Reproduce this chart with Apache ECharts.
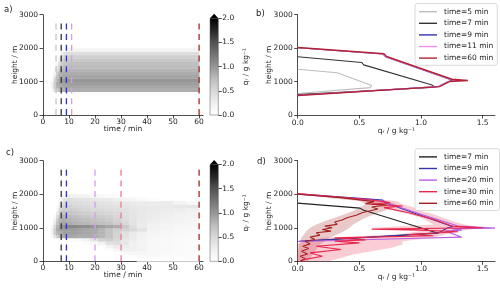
<!DOCTYPE html>
<html>
<head>
<meta charset="utf-8">
<script src="https://cdn.jsdelivr.net/npm/echarts@6/dist/echarts.min.js"></script>
<style>
  html, body { margin: 0; padding: 0; background: #fff; }
  #main { width: 500px; height: 292px; }
</style>
</head>
<body>
<div id="main"></div>
<script>
// ---- data ----
// field rows: bottom of each 100 m height bin
var rowStep = 100;
var rowBottoms = [0, 100, 200, 300, 400, 500, 600, 700, 800, 900, 1000, 1100, 1200, 1300, 1400, 1500, 1600, 1700, 1800, 1900];

// panel a: column edges (min) and q_r (g/kg) per height bin
var colEdgesA = [3, 4, 5, 6, 7, 8, 9, 60];
var fieldA = [
  [0, 0, 0, 0, 0, 0, 0, 0.1, 0.2, 0.2, 0.1, 0, 0, 0, 0, 0, 0, 0, 0, 0],
  [0, 0, 0, 0, 0, 0, 0, 0.4, 0.6, 0.6, 0.5, 0.35, 0.2, 0.1, 0, 0, 0, 0, 0, 0],
  [0, 0, 0, 0, 0, 0, 0, 0.6, 0.8, 0.85, 0.8, 0.7, 0.6, 0.45, 0.3, 0.15, 0.05, 0, 0, 0],
  [0, 0, 0, 0, 0, 0, 0, 0.75, 0.85, 0.9, 0.9, 0.85, 0.8, 0.7, 0.6, 0.5, 0.35, 0.2, 0.1, 0],
  [0, 0, 0, 0, 0, 0, 0, 0.82, 0.88, 0.92, 0.98, 0.88, 0.84, 0.78, 0.7, 0.64, 0.56, 0.45, 0.3, 0.08],
  [0, 0, 0, 0, 0, 0, 0.03, 0.85, 0.9, 0.95, 1.0, 0.9, 0.85, 0.8, 0.74, 0.7, 0.63, 0.55, 0.42, 0.15],
  [0, 0, 0, 0, 0, 0, 0.05, 0.85, 0.9, 0.95, 1.0, 0.9, 0.85, 0.8, 0.75, 0.72, 0.65, 0.58, 0.45, 0.2]
];

// panel c
var colEdgesC = [3, 4, 5, 6, 7, 8, 9, 11, 13, 15, 18, 21, 24, 27, 30, 33, 36, 40, 45, 50, 55, 60];
var fieldC = [
  [0, 0, 0, 0, 0, 0, 0, 0.1, 0.2, 0.2, 0.1, 0, 0, 0, 0, 0, 0, 0, 0, 0],
  [0, 0, 0, 0, 0, 0, 0, 0.4, 0.6, 0.6, 0.5, 0.35, 0.2, 0.1, 0, 0, 0, 0, 0, 0],
  [0, 0, 0, 0, 0, 0, 0, 0.6, 0.8, 0.85, 0.8, 0.7, 0.6, 0.45, 0.3, 0.15, 0.05, 0, 0, 0],
  [0, 0, 0, 0, 0, 0, 0, 0.75, 0.85, 0.9, 0.9, 0.85, 0.8, 0.7, 0.6, 0.5, 0.35, 0.2, 0.1, 0],
  [0, 0, 0, 0, 0, 0, 0, 0.85, 0.9, 0.95, 1.0, 0.9, 0.85, 0.8, 0.7, 0.62, 0.52, 0.42, 0.3, 0.1],
  [0, 0, 0, 0, 0, 0, 0, 0.9, 0.95, 0.95, 1.05, 0.9, 0.85, 0.8, 0.72, 0.62, 0.55, 0.48, 0.4, 0.2],
  [0, 0, 0, 0, 0, 0, 0.05, 0.9, 0.95, 0.95, 1.1, 0.85, 0.8, 0.75, 0.68, 0.6, 0.55, 0.5, 0.45, 0.25],
  [0, 0, 0, 0, 0, 0, 0.08, 0.88, 0.95, 0.95, 1.1, 0.82, 0.78, 0.72, 0.65, 0.58, 0.52, 0.48, 0.42, 0.25],
  [0, 0, 0, 0, 0, 0, 0.12, 0.85, 0.92, 0.92, 1.05, 0.8, 0.75, 0.7, 0.62, 0.55, 0.5, 0.45, 0.4, 0.22],
  [0, 0, 0, 0, 0, 0.05, 0.2, 0.85, 0.9, 0.9, 1.05, 0.78, 0.72, 0.65, 0.6, 0.52, 0.48, 0.44, 0.38, 0.2],
  [0, 0, 0, 0, 0, 0.1, 0.35, 0.85, 0.88, 0.88, 1.0, 0.75, 0.7, 0.62, 0.56, 0.5, 0.45, 0.42, 0.35, 0.15],
  [0, 0, 0, 0, 0.05, 0.2, 0.55, 0.8, 0.8, 0.8, 0.95, 0.72, 0.66, 0.6, 0.54, 0.48, 0.44, 0.4, 0.32, 0.1],
  [0, 0, 0, 0.05, 0.2, 0.4, 0.6, 0.7, 0.7, 0.7, 0.9, 0.7, 0.62, 0.58, 0.52, 0.46, 0.42, 0.38, 0.3, 0.08],
  [0, 0, 0.05, 0.15, 0.3, 0.45, 0.5, 0.55, 0.55, 0.6, 0.85, 0.6, 0.55, 0.52, 0.48, 0.44, 0.4, 0.36, 0.25, 0.05],
  [0, 0.03, 0.1, 0.25, 0.3, 0.35, 0.35, 0.4, 0.42, 0.55, 0.65, 0.5, 0.46, 0.44, 0.42, 0.4, 0.38, 0.34, 0.2, 0],
  [0, 0.05, 0.15, 0.25, 0.25, 0.25, 0.28, 0.3, 0.32, 0.5, 0.45, 0.4, 0.38, 0.38, 0.38, 0.36, 0.35, 0.32, 0.15, 0],
  [0.02, 0.08, 0.15, 0.2, 0.2, 0.2, 0.2, 0.22, 0.25, 0.4, 0.3, 0.32, 0.33, 0.34, 0.34, 0.34, 0.33, 0.3, 0.1, 0],
  [0.02, 0.08, 0.12, 0.12, 0.12, 0.12, 0.12, 0.15, 0.18, 0.2, 0.22, 0.25, 0.28, 0.3, 0.3, 0.32, 0.32, 0.3, 0.05, 0],
  [0.02, 0.06, 0.1, 0.1, 0.1, 0.1, 0.1, 0.12, 0.14, 0.16, 0.18, 0.2, 0.24, 0.26, 0.28, 0.3, 0.32, 0.3, 0, 0],
  [0.02, 0.05, 0.08, 0.08, 0.08, 0.08, 0.08, 0.1, 0.12, 0.14, 0.15, 0.18, 0.2, 0.22, 0.25, 0.28, 0.34, 0.2, 0, 0],
  [0.02, 0.05, 0.07, 0.07, 0.07, 0.07, 0.07, 0.09, 0.1, 0.12, 0.14, 0.16, 0.18, 0.2, 0.22, 0.26, 0.36, 0.1, 0, 0]
];

// dashed marker times (min)
var markTimesA = [5, 7, 9, 11, 60];
var markTimesC = [7, 9, 20, 30, 60];
var markTop = 2870;

// profiles [q_r, height]
var profB5 = [[0, 1370], [0.32, 1265], [0.33, 1215], [0.6, 880], [0.59, 820], [0, 645]];
var profB7 = [[0, 1740], [0.52, 1570], [0.535, 1500], [1.09, 895], [1.115, 830], [0, 610]];
var profB9 = [[0, 2010], [0.69, 1825], [0.71, 1745], [1.23, 1070], [1.26, 1040], [1.22, 1000], [1.14, 850], [0, 590]];
var profB11 = [[0, 2010], [0.69, 1825], [0.71, 1745], [1.24, 1065], [1.3, 1030], [1.22, 1000], [1.14, 850], [0, 590]];
var profB60 = [[0, 2020], [0.7, 1830], [0.72, 1750], [1.25, 1070], [1.38, 1030], [1.23, 1000], [1.15, 850], [0, 585]];

var profD7 = [[0, 1735], [0.505, 1585], [0.53, 1530], [1.1, 880], [1.14, 837], [0, 590]];
var profD9 = [[0, 2010], [0.69, 1825], [0.71, 1745], [1.23, 1070], [1.26, 1040], [1.22, 1000], [1.14, 850], [0, 590]];
var profD20 = [[0, 2000], [0.7, 1800], [0.74, 1720], [1.0, 1400], [1.3, 1050], [1.6, 990], [1.25, 975], [1.33, 930], [1.2, 900], [1.33, 720], [0.9, 680], [0, 590]];
var profD30 = [[0, 2020], [0.55, 1850], [0.75, 1750], [0.6, 1700], [0.85, 1650], [0.7, 1600], [0.9, 1450], [1.1, 1250], [1.25, 1050], [1.5, 1000], [0.6, 960], [1.0, 930], [1.3, 880], [0.9, 800], [1.1, 760], [0.3, 700], [0.55, 640], [0.3, 600], [0.5, 550], [0.15, 450], [0.35, 350], [0.1, 250], [0.2, 150], [0.05, 50], [0.02, 0]];
var profD60 = [[0, 2000], [0.35, 1900], [0.62, 1780], [0.55, 1720], [0.72, 1680], [0.6, 1620], [0.65, 1560], [0.52, 1450], [0.48, 1380], [0.4, 1300], [0.36, 1230], [0.3, 1170], [0.32, 1100], [0.22, 1050], [0.28, 1000], [0.2, 950], [0.27, 900], [0.15, 850], [0.18, 780], [0.1, 720], [0.14, 650], [0.06, 600], [0.1, 520], [0.04, 450], [0.09, 380], [0.03, 300], [0.08, 220], [0.02, 150], [0.06, 80], [0.02, 0]];

// spread bands in d
var bandHeights = [1900, 1800, 1700, 1600, 1500, 1400, 1300, 1200, 1100, 1000, 900, 800, 700, 600, 500, 400, 300, 200, 100, 0];
var band30Low = [0.3, 0.55, 0.6, 0.7, 0.8, 0.9, 1.0, 1.05, 1.1, 0.6, 1.0, 0.8, 0.2, 0.05, 0, 0, 0, 0, 0, 0];
var band30High = [0.5, 0.8, 0.85, 0.95, 1.0, 1.1, 1.18, 1.25, 1.35, 1.5, 1.3, 1.2, 1.1, 0.85, 0.85, 0.75, 0.6, 0.45, 0.35, 0.25];
var band60Low = [0.2, 0.5, 0.55, 0.5, 0.45, 0.38, 0.3, 0.22, 0.15, 0.1, 0.07, 0.05, 0.03, 0.02, 0.01, 0.01, 0, 0, 0, 0];
var band60High = [0.3, 0.7, 0.8, 0.78, 0.7, 0.62, 0.55, 0.5, 0.45, 0.42, 0.38, 0.32, 0.26, 0.22, 0.18, 0.16, 0.14, 0.12, 0.1, 0.08];

var timeTicks = [0, 10, 20, 30, 40, 50, 60];
var heightTicks = [0, 1000, 2000, 3000];
var qrTicks = [0, 0.5, 1, 1.5];
var cbTicks = [0, 0.5, 1, 1.5, 2];
var greys = ['#ffffff', '#f0f0f0', '#d9d9d9', '#bdbdbd', '#969696', '#737373', '#525252', '#252525', '#000000'];

// ---- chart ----
var FONT = 'DejaVu Sans';
var INK = '#222';
var QR = 'q\u1d63 / g kg\u207b\u00b9';

function cells(edges, cols) {
  var out = [];
  cols.forEach(function (col, j) {
    col.forEach(function (q, i) {
      if (q > 0) out.push([edges[j], edges[j + 1], rowBottoms[i], rowBottoms[i] + rowStep, q]);
    });
  });
  return out;
}

function renderCell(params, api) {
  var p = api.coord([api.value(0), api.value(3)]);
  var r = api.coord([api.value(1), api.value(2)]);
  return {
    type: 'rect',
    shape: { x: p[0], y: p[1], width: r[0] - p[0] + 0.4, height: r[1] - p[1] + 0.4 },
    style: { fill: api.visual('color') }
  };
}

function renderColorbar(params, api) {
  var p = api.coord([0, 2]);
  var r = api.coord([1, 0]);
  var stops = greys.map(function (c, i) { return { offset: i / (greys.length - 1), color: c }; });
  return {
    type: 'group',
    children: [
      { type: 'rect', shape: { x: p[0], y: p[1], width: r[0] - p[0], height: r[1] - p[1] },
        style: { fill: { type: 'linear', x: 0, y: 1, x2: 0, y2: 0, colorStops: stops }, stroke: '#555', lineWidth: 0.5 } },
      { type: 'polygon', shape: { points: [[p[0], p[1]], [r[0], p[1]], [(p[0] + r[0]) / 2, p[1] - 4.5]] },
        style: { fill: '#000' } }
    ]
  };
}

function band(idx, lo, hi, color) {
  return {
    type: 'custom', xAxisIndex: idx, yAxisIndex: idx, silent: true, data: [[0, 0]],
    renderItem: function (params, api) {
      var pts = [];
      bandHeights.forEach(function (h, k) { pts.push(api.coord([lo[k], h])); });
      for (var k = bandHeights.length - 1; k >= 0; k--) pts.push(api.coord([hi[k], bandHeights[k]]));
      return { type: 'polygon', shape: { points: pts }, style: { fill: color } };
    }
  };
}

function marks(idx, times, colors) {
  return times.map(function (t, k) {
    return {
      type: 'line', xAxisIndex: idx, yAxisIndex: idx, silent: true, symbol: 'none',
      data: [[t, 0], [t, markTop]],
      lineStyle: { color: colors[k], width: 1.3, type: [6, 4.7] }
    };
  });
}

function profile(idx, name, data, color, width) {
  return {
    type: 'line', name: name, xAxisIndex: idx, yAxisIndex: idx, symbol: 'none', showSymbol: false,
    data: data, lineStyle: { color: color, width: width || 1.1 }, itemStyle: { color: color }
  };
}

function axis(o) {
  var base = {
    type: 'value', splitLine: { show: false }, nameLocation: 'middle', nameMoveOverlap: false,
    axisLine: { show: true, onZero: false, lineStyle: { color: INK, width: 0.8 } },
    axisTick: { show: true, length: 3.5, lineStyle: { color: INK, width: 0.8 } },
    axisLabel: { fontSize: 7.5, color: INK, fontFamily: FONT, margin: 3 },
    nameTextStyle: { fontSize: 7.5, color: INK, fontFamily: FONT }
  };
  Object.keys(o).forEach(function (k) {
    if (base[k] && typeof base[k] === 'object' && !Array.isArray(o[k])) base[k] = Object.assign({}, base[k], o[k]);
    else base[k] = o[k];
  });
  return base;
}

var fmt1 = function (v) { return Number(v).toFixed(1); };
var fmt0 = function (v) { return String(v); };

var grids = [
  { left: 43, top: 14.7, width: 160, height: 100.3 },
  { left: 297.7, top: 14.7, width: 197.3, height: 100.3 },
  { left: 43, top: 160.7, width: 160, height: 100.6 },
  { left: 297.7, top: 160.7, width: 197.3, height: 100.6 },
  { left: 210, top: 18.3, width: 8.3, height: 96.7 },
  { left: 210, top: 164.5, width: 8.3, height: 96.8 }
];

var xAxes = [], yAxes = [];
[0, 2].forEach(function (g) {
  xAxes[g] = axis({ gridIndex: g, min: 0, max: 61.5, name: 'time / min', nameGap: 10,
    axisTick: { customValues: timeTicks }, axisLabel: { customValues: timeTicks, formatter: fmt0 } });
  yAxes[g] = axis({ gridIndex: g, min: 0, max: 3000, name: 'height / m', nameGap: 24,
    axisTick: { customValues: heightTicks }, axisLabel: { customValues: heightTicks, formatter: fmt0, margin: 5 } });
});
[1, 3].forEach(function (g) {
  xAxes[g] = axis({ gridIndex: g, min: 0, max: 1.6, name: QR, nameGap: 12,
    axisTick: { customValues: qrTicks }, axisLabel: { customValues: qrTicks, formatter: fmt1, margin: 4 } });
  yAxes[g] = axis({ gridIndex: g, min: 0, max: 3000, name: 'height / m', nameGap: 25,
    axisTick: { customValues: heightTicks }, axisLabel: { customValues: heightTicks, formatter: fmt0, margin: 5 } });
});
[4, 5].forEach(function (g) {
  xAxes[g] = { type: 'value', gridIndex: g, min: 0, max: 1, show: false };
  yAxes[g] = axis({ gridIndex: g, min: 0, max: 2, position: 'right', name: QR, nameGap: 24, nameRotate: 90,
    axisLine: { show: false },
    axisTick: { customValues: cbTicks }, axisLabel: { customValues: cbTicks, formatter: fmt1, margin: 4 } });
});

var series = [
  { type: 'custom', xAxisIndex: 0, yAxisIndex: 0, silent: true, renderItem: renderCell,
    dimensions: ['t0', 't1', 'z0', 'z1', 'q'], encode: { x: [0, 1], y: [2, 3] }, data: cells(colEdgesA, fieldA) },
  { type: 'custom', xAxisIndex: 2, yAxisIndex: 2, silent: true, renderItem: renderCell,
    dimensions: ['t0', 't1', 'z0', 'z1', 'q'], encode: { x: [0, 1], y: [2, 3] }, data: cells(colEdgesC, fieldC) },
  { type: 'custom', xAxisIndex: 4, yAxisIndex: 4, silent: true, renderItem: renderColorbar, data: [[0, 0]] },
  { type: 'custom', xAxisIndex: 5, yAxisIndex: 5, silent: true, renderItem: renderColorbar, data: [[0, 0]] },
  band(3, band60Low, band60High, 'rgba(175, 60, 60, 0.28)'),
  band(3, band30Low, band30High, 'rgba(240, 90, 115, 0.3)')
];
series = series
  .concat(marks(0, markTimesA, ['#c4c4c4', '#333333', '#3535b0', '#ee8eee', '#b22222']))
  .concat(marks(2, markTimesC, ['#333333', '#3535b0', '#d49cf0', '#f27a8e', '#b22222']))
  .concat([
    profile(1, 'time=5 min', profB5, '#bdbdbd'),
    profile(1, 'time=7 min', profB7, '#333333'),
    profile(1, 'time=9 min', profB9, '#3535b0'),
    profile(1, 'time=11 min', profB11, '#ee8eee'),
    profile(1, 'time=60 min', profB60, '#b22234', 1.4),
    profile(3, 'time=7 min ', profD7, '#222222'),
    profile(3, 'time=9 min ', profD9, '#3535b0'),
    profile(3, 'time=20 min', profD20, '#b860e0'),
    profile(3, 'time=30 min', profD30, '#e8264c'),
    profile(3, 'time=60 min ', profD60, '#a52020')
  ]);

function legendAt(top, names) {
  return {
    orient: 'vertical', left: 415, top: top, data: names, selectedMode: false,
    icon: 'rect', itemWidth: 18, itemHeight: 1.4, itemGap: 3.2, padding: [4, 4, 3, 4],
    borderColor: '#d0d0d0', borderWidth: 0.8, borderRadius: 2.5, backgroundColor: 'rgba(255,255,255,0.85)',
    textStyle: { fontSize: 7.5, color: INK, fontFamily: FONT, lineHeight: 8.4, padding: [0, 0, 0, 2] }
  };
}

var chart = echarts.init(document.getElementById('main'), null, { renderer: 'canvas' });
chart.setOption({
  animation: false,
  backgroundColor: '#fff',
  grid: grids,
  xAxis: xAxes,
  yAxis: yAxes,
  visualMap: {
    type: 'continuous', show: false, min: 0, max: 2, dimension: 4, seriesIndex: [0, 1],
    inRange: { color: greys }
  },
  legend: [
    legendAt(3.5, ['time=5 min', 'time=7 min', 'time=9 min', 'time=11 min', 'time=60 min']),
    legendAt(148.7, ['time=7 min ', 'time=9 min ', 'time=20 min', 'time=30 min', 'time=60 min '])
  ],
  graphic: [
    { type: 'text', left: 4, top: 5.5, style: { text: 'a)', fontSize: 8.5, fontFamily: FONT, fill: INK } },
    { type: 'text', left: 256, top: 9, style: { text: 'b)', fontSize: 8.5, fontFamily: FONT, fill: INK } },
    { type: 'text', left: 6, top: 148.5, style: { text: 'c)', fontSize: 8.5, fontFamily: FONT, fill: INK } },
    { type: 'text', left: 257, top: 157.5, style: { text: 'd)', fontSize: 8.5, fontFamily: FONT, fill: INK } }
  ],
  series: series
});
</script>
</body>
</html>
